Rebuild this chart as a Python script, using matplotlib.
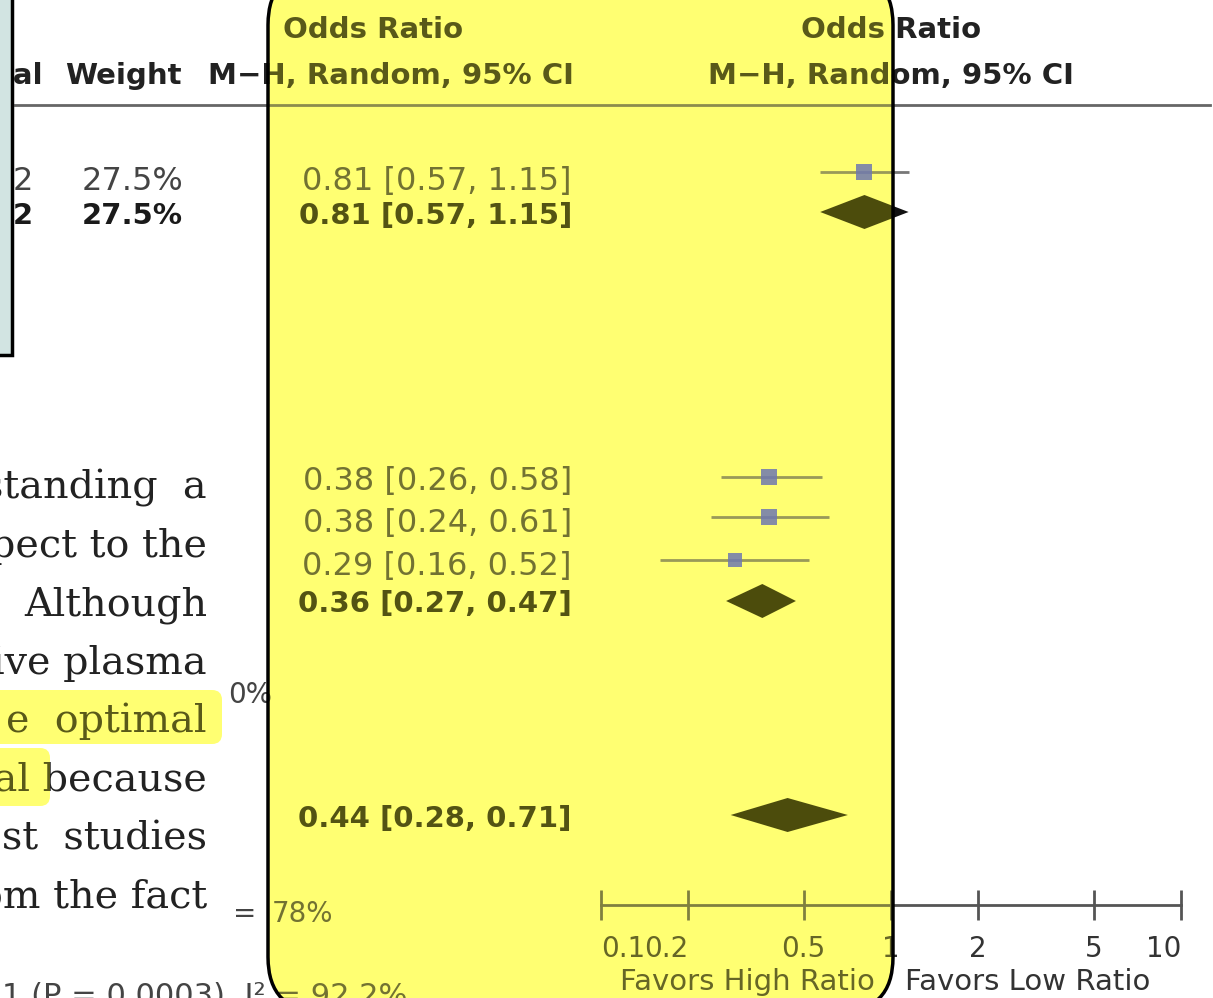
import matplotlib
matplotlib.use('Agg')
import matplotlib.pyplot as plt
from matplotlib.patches import FancyBboxPatch, Rectangle

plt.rcParams['font.family'] = 'DejaVu Sans'

# forest plot values (odds ratio, lower CI, upper CI)
study_or = [0.81, 0.38, 0.38, 0.29]
study_lo = [0.57, 0.26, 0.24, 0.16]
study_hi = [1.15, 0.58, 0.61, 0.52]
sub_or = [0.81, 0.36]
sub_lo = [0.57, 0.27]
sub_hi = [1.15, 0.47]
total_or = 0.44
total_lo = 0.28
total_hi = 0.71
weight_labels = ['27.5%', '27.5%']
ticks = [0.1, 0.2, 0.5, 1, 2, 5, 10]
tick_labels = ['0.1', '0.2', '0.5', '1', '2', '5', '10']

# row layout (pixel rows of the screenshot)
study_y = [172, 477, 517, 560]
sub_y = [212, 601]
total_y = 815
study_text_y = [190, 490, 532, 575]
sub_text_y = [224, 612]
total_text_y = 827
marker_sizes = [11, 11, 11, 9.5]

paragraph = ['standing  a', 'pect to the', 'Although', 'ive plasma',
             'e  optimal', 'ial because', 'ost  studies', 'om the fact']
paragraph_y = [498, 557, 616, 674, 732, 791, 850, 908]

W, H = 1213, 998
fig = plt.figure(figsize=(W / 100, H / 100), dpi=100)

def pixel_axes():
    ax = fig.add_axes([0, 0, 1, 1])
    ax.set_xlim(0, W)
    ax.set_ylim(H, 0)
    ax.axis('off')
    ax.patch.set_visible(False)
    return ax

def forest_axes():
    ax = fig.add_axes([601 / W, 0, 580 / W, 1])
    ax.set_xscale('log')
    ax.set_xlim(0.1, 10)
    ax.set_ylim(H, 0)
    ax.patch.set_visible(False)
    return ax

def ci_label(o, lo, hi):
    return '%.2f [%.2f, %.2f]' % (o, lo, hi)

# highlight shapes (pixel boxes of the screenshot)
big_box = ((268, -30), 625, 1042, 55)
small_boxes = [((-20, 690), 242, 54, 10), ((-20, 748), 70, 58, 10)]

def add_boxes(ax, face, edge):
    (x, y), w, h, r = big_box
    ax.add_patch(FancyBboxPatch((x, y), w, h, boxstyle='round,pad=0,rounding_size=%d' % r,
                                facecolor=face, edgecolor=edge, lw=2.5, zorder=0))
    for (x, y), w, h, r in small_boxes:
        ax.add_patch(FancyBboxPatch((x, y), w, h, boxstyle='round,pad=0,rounding_size=%d' % r,
                                    facecolor=face, edgecolor='none', zorder=0))

bg = pixel_axes()
add_boxes(bg, (1, 1, 0.6), 'none')

# header
hdr = dict(fontsize=21, fontweight='bold', color='#222', va='baseline')
bg.text(43, 84, 'Total', ha='right', **hdr)
bg.text(65, 84, 'Weight', ha='left', **hdr)
bg.text(208, 84, 'M\u2212H, Random, 95% CI', ha='left', **hdr)
bg.text(283, 38, 'Odds Ratio', ha='left', **hdr)
bg.plot([15, 1210], [105, 105], color='#666', lw=2)

# table rows
norm = dict(fontsize=23, color='#444', va='baseline', ha='right')
bold = dict(fontsize=21, fontweight='bold', color='#1a1a1a', va='baseline', ha='right')
bg.text(33, study_text_y[0], '2', **norm)
bg.text(183, study_text_y[0], weight_labels[0], **norm)
bg.text(33, sub_text_y[0], '2', **bold)
bg.text(183, sub_text_y[0], weight_labels[1], **bold)
for o, lo, hi, ty in zip(study_or, study_lo, study_hi, study_text_y):
    bg.text(572, ty, ci_label(o, lo, hi), **norm)
for o, lo, hi, ty in zip(sub_or, sub_lo, sub_hi, sub_text_y):
    bg.text(572, ty, ci_label(o, lo, hi), **bold)
bg.text(572, total_text_y, ci_label(total_or, total_lo, total_hi), **bold)

# footnote fragments
foot = dict(fontsize=20, color='#444', va='baseline')
bg.text(228, 703, '0%', ha='left', **foot)
bg.text(245, 922, '=', ha='center', **foot)
bg.text(272, 922, '78%', ha='left', **foot)
bg.text(2, 1005, '1 (P = 0.0003), I\u00b2 = 92.2%', ha='left', fontsize=22,
        color='#444', va='baseline')

# document paragraph on the left
for line, py in zip(paragraph, paragraph_y):
    bg.text(207, py, line, ha='right', va='baseline', fontsize=28.5,
            family='DejaVu Serif', color='#222')

# favours labels
bg.text(875, 990, 'Favors High Ratio', ha='right', va='baseline', fontsize=21, color='#333')
bg.text(905, 990, 'Favors Low Ratio', ha='left', va='baseline', fontsize=21, color='#333')

# forest plot
fp = forest_axes()
for o, lo, hi, y in zip(study_or, study_lo, study_hi, study_y):
    fp.plot([lo, hi], [y, y], color='#777', lw=2, solid_capstyle='butt')
h = 17
for o, lo, hi, y in zip(sub_or, sub_lo, sub_hi, sub_y):
    fp.fill([lo, o, hi, o], [y, y - h, y, y + h], color='#111', lw=0)
fp.fill([total_lo, total_or, total_hi, total_or],
        [total_y, total_y - h, total_y, total_y + h], color='#111', lw=0)
fp.text(1, 38, 'Odds Ratio', ha='center', va='baseline', fontsize=21,
        fontweight='bold', color='#222')
fp.text(1, 84, 'M\u2212H, Random, 95% CI', ha='center', va='baseline', fontsize=21,
        fontweight='bold', color='#222')

for s in ['left', 'right', 'top']:
    fp.spines[s].set_visible(False)
fp.spines['bottom'].set_position(('data', 905))
fp.spines['bottom'].set_color('#555')
fp.spines['bottom'].set_linewidth(2)
fp.set_yticks([])
fp.set_xticks(ticks)
fp.set_xticklabels([''] * len(ticks))
fp.minorticks_off()
fp.tick_params(axis='x', direction='inout', length=22, width=2, color='#555')
aligns = ['left', 'right', 'center', 'center', 'center', 'center', 'right']
for t, lab, a in zip(ticks, tick_labels, aligns):
    fp.text(t, 957, lab, ha=a, va='baseline', fontsize=20, color='#333')

# yellow tint over the content, plus the black outline and side panel
over = pixel_axes()
add_boxes(over, (1, 1, 0, 0.25), 'black')
over.add_patch(Rectangle((-10, -10), 22, 365, facecolor='#d2e4e2',
                         edgecolor='black', lw=2.5))

# study squares drawn above the highlight
sq = forest_axes()
sq.axis('off')
for o, y, ms in zip(study_or, study_y, marker_sizes):
    sq.plot([o], [y], marker='s', ms=ms, color='#6f78b0', alpha=0.85, mew=0)

fig.savefig('out.png', dpi=100)
